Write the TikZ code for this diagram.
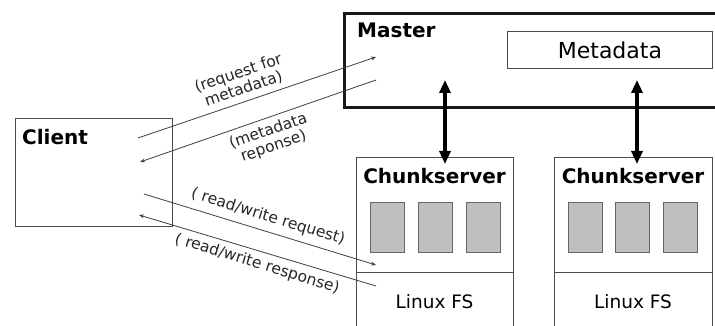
\documentclass[tikz,border=0pt]{standalone}
\usepackage{fontspec}
\setmainfont{DejaVu Sans}
\usetikzlibrary{arrows.meta}
\begin{document}
\begin{tikzpicture}[x=1pt,y=-1pt,
  box/.style={draw=black!70, line width=0.9pt, inner sep=0pt, anchor=north west},
  chunk/.style={draw=black!60, fill=black!25, line width=0.8pt, inner sep=0pt, anchor=north west, minimum width=34pt, minimum height=50pt},
  title/.style={font=\fontsize{20}{22}\selectfont\bfseries, inner sep=0pt, anchor=west},
  fs/.style={font=\fontsize{18.5}{21}\selectfont, inner sep=0pt},
  lbl/.style={font=\fontsize{15.5}{16.5}\selectfont, inner sep=0pt, align=center, text=black!85},
  conn/.style={draw=black!75, line width=0.8pt, -{Stealth[length=5pt,width=4pt]}},
  big/.style={line width=3.5pt, {Triangle[width=11pt,length=13pt]}-{Triangle[width=11pt,length=13pt]}}
]
\clip (0,0) rectangle (715,326);
\fill[white] (0,0) rectangle (715,326);

% Client
\node[box, minimum width=157pt, minimum height=108pt] (client) at (15,118) {};
\node[title] (clientlbl) at (22,137) {Client};

% Master
\node[box, draw=black!90, line width=2.6pt, minimum width=378pt, minimum height=94pt] (master) at (343,12) {};
\node[title] (masterlbl) at (357,30) {Master};
\node[box, minimum width=205pt, minimum height=37pt] (meta) at (507,31) {};
\node[fs, font=\fontsize{22}{24}\selectfont] (metalbl) at (meta.center) {Metadata};

% Chunkservers
\node[box, minimum width=157pt, minimum height=190pt] (cs1) at (356,157) {};
\node[box, minimum width=158pt, minimum height=190pt] (cs2) at (554,157) {};
\draw[draw=black!70, line width=0.9pt] (356,272) coordinate (d1a) -- (513,272) coordinate (d1b);
\draw[draw=black!70, line width=0.9pt] (554,272) coordinate (d2a) -- (712,272) coordinate (d2b);
\node[title, anchor=center] (cs1lbl) at (434.5,176) {Chunkserver};
\node[title, anchor=center] (cs2lbl) at (633,176) {Chunkserver};
\node[chunk] (c11) at (370,202) {};
\node[chunk] (c12) at (418,202) {};
\node[chunk] (c13) at (466,202) {};
\node[chunk] (c21) at (568,202) {};
\node[chunk] (c22) at (615,202) {};
\node[chunk] (c23) at (663,202) {};
\node[fs] (fs1) at (434.5,302) {Linux FS};
\node[fs] (fs2) at (633,302) {Linux FS};

% thick arrows
\coordinate (m1) at (445,80);
\coordinate (s1) at (445,164);
\coordinate (m2) at (637,80);
\coordinate (s2) at (637,164);
\draw[big] (m1) -- (s1);
\draw[big] (m2) -- (s2);

% thin connectors
\coordinate (cA) at (138,138);
\coordinate (mA) at (376,57);
\coordinate (mB) at (376,80);
\coordinate (cB) at (140,162);
\coordinate (cC) at (144,194);
\coordinate (sC) at (376,265);
\coordinate (sD) at (376,286);
\coordinate (cD) at (139,215);
\draw[conn] (cA) -- (mA);
\draw[conn] (mB) -- (cB);
\draw[conn] (cC) -- (sC);
\draw[conn] (sD) -- (cD);

\node[lbl, rotate=19] (l1) at (241,81) {(request for\\metadata)};
\node[lbl, rotate=19] (l2) at (271,139) {(metadata\\reponse)};
\node[lbl, rotate=-17] (l3) at (268,217) {( read/write request)};
\node[lbl, rotate=-17] (l4) at (257,264) {( read/write response)};
\end{tikzpicture}
\end{document}
